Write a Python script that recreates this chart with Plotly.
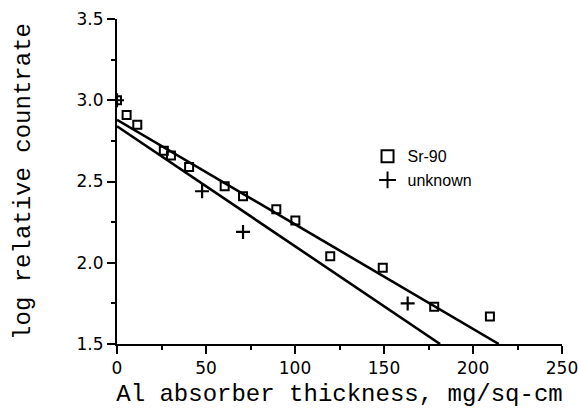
import plotly.graph_objects as go

# Sr-90 data (squares)
sr_x = [0, 5.4, 11.4, 26.3, 30.3, 40.5, 60.5, 70.8, 89.5, 100.2, 119.8, 149.3, 178.2, 209.5]
sr_y = [3.00, 2.91, 2.85, 2.69, 2.66, 2.59, 2.47, 2.41, 2.33, 2.26, 2.04, 1.97, 1.73, 1.67]

# unknown data (plus signs)
unk_x = [0, 47.8, 70.8, 163.3]
unk_y = [3.00, 2.44, 2.19, 1.75]

# fitted lines (end points)
fit_sr_x = [0, 214.5]
fit_sr_y = [2.88, 1.50]
fit_unk_x = [0, 181.5]
fit_unk_y = [2.84, 1.50]

x_ticks = [0, 50, 100, 150, 200, 250]
y_ticks = [1.5, 2.0, 2.5, 3.0, 3.5]

fig = go.Figure()
fig.add_trace(go.Scatter(x=fit_sr_x, y=fit_sr_y, mode="lines",
                         line=dict(color="black", width=2.6), showlegend=False, hoverinfo="skip"))
fig.add_trace(go.Scatter(x=fit_unk_x, y=fit_unk_y, mode="lines",
                         line=dict(color="black", width=2.6), showlegend=False, hoverinfo="skip"))
fig.add_trace(go.Scatter(x=sr_x, y=sr_y, mode="markers", name="Sr-90",
                         marker=dict(symbol="square-open", size=8, color="black",
                                     line=dict(width=2, color="black"))))
fig.add_trace(go.Scatter(x=unk_x, y=unk_y, mode="markers", name="unknown",
                         marker=dict(symbol="cross-thin", size=10, color="black",
                                     line=dict(width=2.2, color="black"))))

axis_font = dict(family="Liberation Mono", size=24, color="black")
tick_font = dict(family="DejaVu Sans", size=17, color="black")

fig.update_layout(
    width=578, height=414,
    margin=dict(l=117, r=16, t=19, b=70, autoexpand=False),
    paper_bgcolor="white", plot_bgcolor="white",
    showlegend=True,
    legend=dict(x=0.563, y=0.63, xanchor="left", yanchor="top",
                font=dict(family="Liberation Sans", size=16, color="black"),
                bgcolor="rgba(0,0,0,0)", tracegroupgap=0, itemsizing="constant"),
    xaxis=dict(range=[0, 250], tickmode="linear", tick0=x_ticks[0], dtick=x_ticks[1] - x_ticks[0],
               automargin=False, ticklabeloverflow="allow",
               showline=True, linecolor="black", linewidth=2,
               ticks="outside", ticklen=8, tickwidth=2, tickcolor="black",
               minor=dict(ticks="outside", ticklen=4, tickwidth=2, tickcolor="black", dtick=25),
               showgrid=False, zeroline=False, tickfont=tick_font,
               title=dict(text="Al absorber thickness, mg/sq-cm", font=axis_font, standoff=7)),
    yaxis=dict(range=[1.5, 3.5], tickmode="linear", tick0=y_ticks[0], dtick=y_ticks[1] - y_ticks[0],
               tickformat=".1f", automargin=False, ticklabeloverflow="allow",
               showline=True, linecolor="black", linewidth=2,
               ticks="outside", ticklen=8, tickwidth=2, tickcolor="black",
               minor=dict(ticks="outside", ticklen=4, tickwidth=2, tickcolor="black", dtick=0.25),
               showgrid=False, zeroline=False, tickfont=tick_font,
               title=dict(text="log relative countrate", font=axis_font, standoff=39)),
)

fig.write_html("out.html", config={"displayModeBar": False},
               post_script="document.body.style.margin='0';document.body.style.overflow='hidden';")
